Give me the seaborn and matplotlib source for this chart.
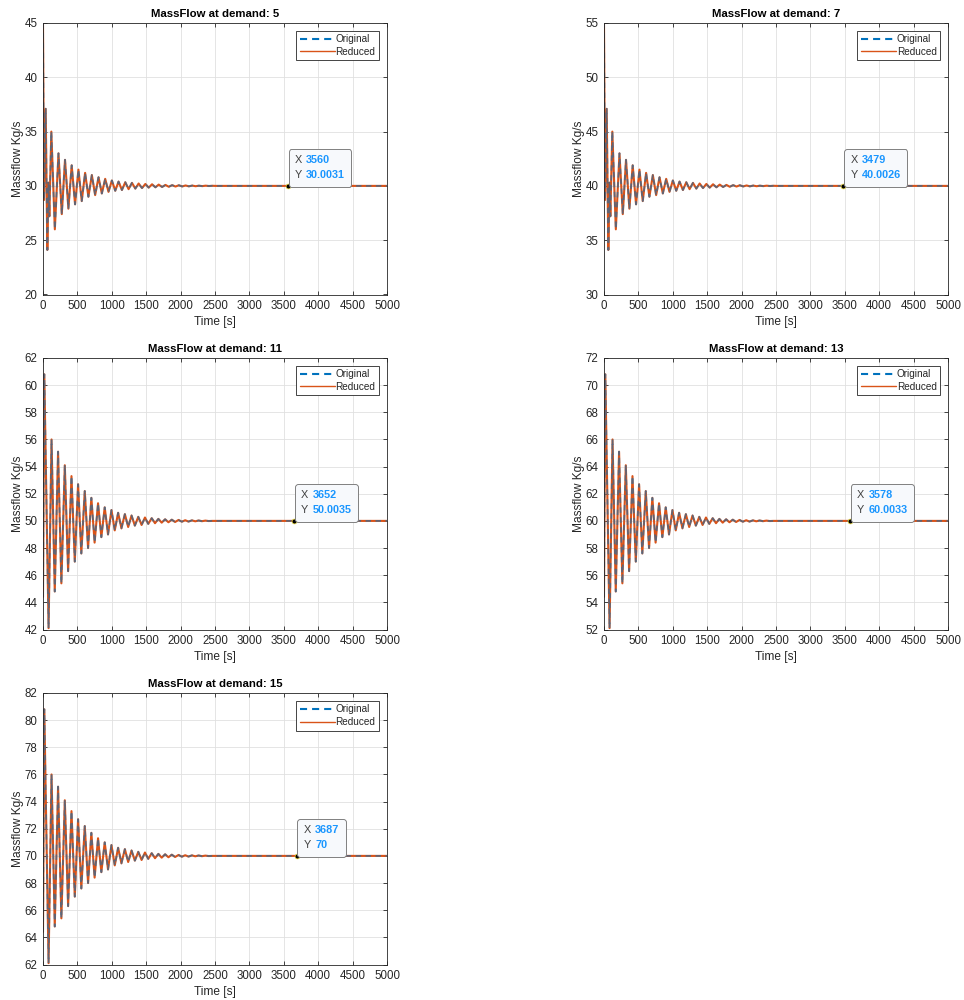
import numpy as np
import pandas as pd
import seaborn as sns
import matplotlib
matplotlib.use("Agg")
import matplotlib.pyplot as plt
from matplotlib.lines import Line2D
from matplotlib.offsetbox import TextArea, HPacker, VPacker, AnnotationBbox

sns.set_theme(style="ticks")
plt.rcParams['font.family'] = ['Liberation Sans', 'DejaVu Sans']

# panels
demands = [5, 7, 11, 13, 15]
steady = [30, 40, 50, 60, 70]
y_lo = [20, 30, 42, 52, 62]
y_hi = [45, 55, 62, 72, 82]
y_step = [5, 5, 2, 2, 2]
shape = ['a', 'a', 'b', 'b', 'b']

# data tips
tip_x = [3560, 3479, 3652, 3578, 3687]
tip_y = [30.0031, 40.0026, 50.0035, 60.0033, 70]
tip_x_txt = ["3560", "3479", "3652", "3578", "3687"]
tip_y_txt = ["30.0031", "40.0026", "50.0035", "60.0033", "70"]

# peaks / troughs (deviation from the steady value)
times_a = [0, 15, 39, 63, 80, 92, 121, 172, 225, 273, 320, 369, 417, 466, 515, 563,
           612, 660, 710, 758, 807, 855, 904, 952, 1001, 1050, 1098, 1147, 1196, 1244,
           1293, 1342, 1390, 1439, 1488, 1536, 1585, 1634, 1682, 1731, 1780, 1828, 1877,
           1926, 1974, 2023, 2072, 2120, 2169, 2218, 2266, 2315, 2364, 2412, 2461, 2510, 5000]
dev_a = [15.0, -1.3, 7.1, -5.9, 0.3, -2.8, 5.0, -4.0, 3.0, -2.6, 2.4, -2.1, 1.9, -1.7, 1.5, -1.4,
         1.2, -1.0, 1.0, -0.85, 0.8, -0.7, 0.65, -0.55, 0.5, -0.45, 0.4, -0.38, 0.34, -0.3,
         0.28, -0.25, 0.22, -0.2, 0.18, -0.16, 0.15, -0.13, 0.12, -0.1, 0.09, -0.08, 0.07,
         -0.06, 0.06, -0.05, 0.04, -0.04, 0.03, -0.03, 0.02, -0.02, 0.02, -0.01, 0.01, 0.0, 0.0]

times_b = [0, 19, 81, 124, 171, 219, 267, 317, 365, 414, 462, 510, 557, 607, 655, 703, 750,
           800, 848, 897, 945, 995, 1043, 1092, 1140, 1190, 1238, 1287, 1335, 1385, 1433,
           1482, 1530, 1580, 1628, 1677, 1725, 1775, 1823, 1872, 1920, 1970, 2018, 2067,
           2115, 2165, 2213, 2262, 2310, 2360, 2408, 2460, 5000]
dev_b = [-5.6, 10.8, -7.9, 6.0, -5.2, 5.1, -4.6, 4.1, -3.7, 3.3, -3.0, 2.7, -2.4, 2.2, -2.0,
         1.7, -1.6, 1.3, -1.2, 1.0, -1.0, 0.8, -0.7, 0.6, -0.55, 0.5, -0.45, 0.4, -0.35, 0.3,
         -0.3, 0.25, -0.22, 0.2, -0.17, 0.15, -0.13, 0.12, -0.1, 0.09, -0.08, 0.07, -0.06,
         0.05, -0.05, 0.04, -0.03, 0.03, -0.02, 0.02, -0.01, 0.0, 0.0]

blue = '#0072BD'
orange = '#D95319'
tipblue = '#1A96FF'
dark = '#262626'

W, H = 964, 1000
fig = plt.figure(figsize=(W / 100, H / 100), dpi=100)
fig.patch.set_facecolor('white')

# axes placement in pixels (left, top)
pos = [(43, 23), (604, 23), (43, 358), (604, 358), (43, 693)]
aw, ah = 344, 271.5

for i, d in enumerate(demands):
    left, top = pos[i]
    ax = fig.add_axes([left / W, 1 - (top + ah) / H, aw / W, ah / H])

    if shape[i] == 'a':
        t, dv = times_a, dev_a
    else:
        t, dv = times_b, dev_b
    df = pd.DataFrame({'Time': t, 'Flow': np.array(dv) + steady[i]})

    sns.lineplot(data=df, x='Time', y='Flow', ax=ax, color=orange, linewidth=1.5)
    sns.lineplot(data=df, x='Time', y='Flow', ax=ax, color=blue, linewidth=1.3,
                 linestyle=(0, (3, 2.5)), alpha=0.55)

    ax.set_xlim(0, 5000)
    ax.set_ylim(y_lo[i], y_hi[i])
    ax.set_xticks(np.arange(0, 5001, 500))
    ax.set_yticks(np.arange(y_lo[i], y_hi[i] + 0.1, y_step[i]))
    ax.grid(True, color='#e0e0e0', linewidth=0.6)
    ax.set_axisbelow(True)
    for s in ax.spines.values():
        s.set_visible(True)
        s.set_color(dark)
        s.set_linewidth(0.6)
    ax.tick_params(direction='in', top=True, right=True, length=3, width=0.6,
                   labelsize=8.3, colors=dark, pad=4)

    ax.set_title(f"MassFlow at demand: {d}", fontsize=8.2, fontweight='bold',
                 color='black', pad=4)
    ax.set_xlabel("Time [s]", fontsize=8.6, color=dark, labelpad=3)
    ax.set_ylabel("Massflow Kg/s", fontsize=8.6, color=dark, labelpad=0)

    handles = [Line2D([0], [0], color=blue, lw=1.5, linestyle=(0, (3.4, 2.4))),
               Line2D([0], [0], color=orange, lw=1.0)]
    leg = ax.legend(handles, ["Original", "Reduced"], loc='upper right', fontsize=7.2,
                    frameon=True, fancybox=False, framealpha=1, edgecolor=dark,
                    handlelength=3.5, handletextpad=0.1, borderpad=0.35,
                    labelspacing=0.25, borderaxespad=0.8)
    leg.get_frame().set_linewidth(0.6)

    # data tip
    ax.plot([tip_x[i]], [tip_y[i]], 'o', ms=3.5, mfc='black', mec='#f0e040',
            mew=0.5, zorder=6)
    row1 = HPacker(children=[TextArea("X", textprops=dict(color='#404040', size=7.8)),
                             TextArea(tip_x_txt[i], textprops=dict(color=tipblue, size=7.8,
                                                                   weight='bold'))],
                   align='baseline', pad=0, sep=3)
    row2 = HPacker(children=[TextArea("Y", textprops=dict(color='#404040', size=7.8)),
                             TextArea(tip_y_txt[i], textprops=dict(color=tipblue, size=7.8,
                                                                   weight='bold'))],
                   align='baseline', pad=0, sep=3)
    box = VPacker(children=[row1, row2], align='left', pad=0, sep=3.5)
    ab = AnnotationBbox(box, (tip_x[i], tip_y[i]), xybox=(5, 4), xycoords='data',
                        boxcoords='offset points', box_alignment=(0, 0), frameon=True,
                        fontsize=7.5,
                        bboxprops=dict(boxstyle='round,pad=0.6,rounding_size=0.25',
                                       fc='#f7f9fc', ec='#808080', lw=0.7))
    ab.set_zorder(7)
    ax.add_artist(ab)

fig.savefig('out.png', dpi=100, facecolor='white')
